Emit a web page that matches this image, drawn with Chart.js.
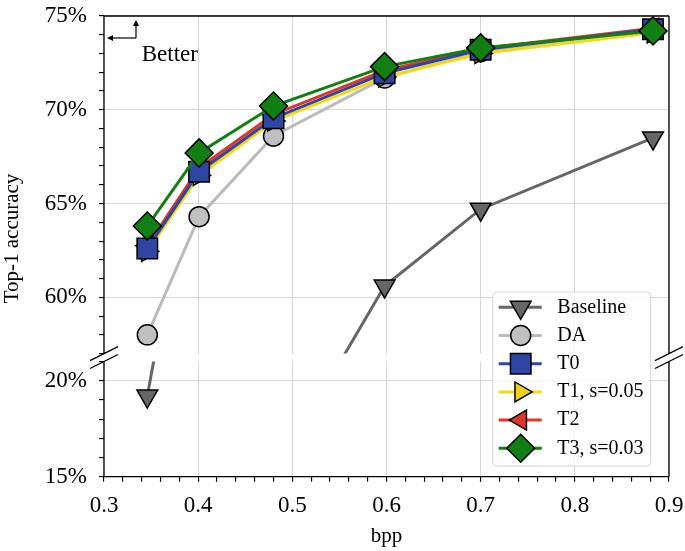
<!DOCTYPE html>
<html>
<head>
<meta charset="utf-8">
<script src="https://cdn.jsdelivr.net/npm/chart.js"></script>
<style>
  html, body { margin: 0; padding: 0; background: #fff; }
  #wrap { position: relative; width: 685px; height: 551px; }
  #wrap canvas { position: absolute; left: 0; top: 0; }
</style>
</head>
<body>
<div id="wrap">
  <canvas id="topChart" width="685" height="551"></canvas>
  <canvas id="bottomChart" width="685" height="551"></canvas>
</div>
<script>
// bits per pixel (x) for every series
const bpp = [0.346, 0.401, 0.480, 0.598, 0.700, 0.883];

// top-1 accuracy in %
const baseline = [19.2, 34.0, 50.5, 60.6, 64.7, 68.5];
const da       = [58.0, 64.3, 68.6, 71.7, 73.1, 74.2];
const t0       = [62.6, 66.7, 69.55, 71.95, 73.2, 74.3];
const t1       = [62.45, 66.5, 69.4, 71.75, 73.0, 74.1];
const t2       = [62.75, 66.9, 69.75, 72.1, 73.25, 74.35];
const t3       = [63.8, 67.7, 70.2, 72.3, 73.3, 74.2];

const seriesLabels = ["Baseline", "DA", "T0", "T1, s=0.05", "T2", "T3, s=0.03"];
const seriesValues = [baseline, da, t0, t1, t2, t3];

// tick labels
const xTickLabels = ["0.3", "0.4", "0.5", "0.6", "0.7", "0.8", "0.9"];
const yTopTicks = [60, 65, 70, 75];
const yBottomTicks = [15, 20];

// broken axis: two y ranges
const topRange = [57, 75];
const bottomRange = [15, 21];

// z: higher = drawn later (on top). T0 sits over T1/T2 like in the paper figure
const styles = [
    { line: "#666666", fill: "#666666", shape: "triangle", rot: 180, r: 12,   z: 1 },
    { line: "#bbbbbb", fill: "#c0c0c0", shape: "circle",   rot: 0,   r: 10,   z: 2 },
    { line: "#2f45a3", fill: "#2f45a3", shape: "rect",     rot: 0,   r: 14.5, z: 5 },
    { line: "#f5d90f", fill: "#f0d317", shape: "triangle", rot: 90,  r: 11.5, z: 3 },
    { line: "#e0352b", fill: "#e0352b", shape: "triangle", rot: 270, r: 11.5, z: 4 },
    { line: "#127f12", fill: "#127f12", shape: "rectRot",  rot: 0,   r: 14,   z: 6 }
];

const FONT = "'Liberation Serif', 'DejaVu Serif', serif";
const GRID = "#d8d8d8";

function makeDatasets() {
    return seriesValues.map((vals, i) => {
        const s = styles[i];
        return {
            label: seriesLabels[i],
            data: bpp.map((x, j) => ({ x: x, y: vals[j] })),
            borderColor: s.line,
            backgroundColor: s.fill,
            borderWidth: 3,
            pointStyle: s.shape,
            pointRotation: s.rot,
            pointRadius: s.r,
            pointHoverRadius: s.r,
            pointBackgroundColor: s.fill,
            pointBorderColor: "#000",
            pointBorderWidth: 1.5,
            tension: 0,
            clip: 0,
            order: 10 - s.z
        };
    });
}

// minor ticks every 0.02 on x, every 1% on y
function xTicks() {
    const out = [];
    for (let k = 0; k <= 30; k++) {
        out.push({ value: +(0.3 + k * 0.02).toFixed(2), major: k % 5 === 0 });
    }
    return out;
}
function yTicks(range, majors) {
    const out = [];
    for (let v = range[0]; v <= range[1]; v++) {
        out.push({ value: v, major: majors.includes(v) });
    }
    return out;
}

const gridColor = (ctx) => (ctx.tick && ctx.tick.major ? GRID : "rgba(0,0,0,0)");

function xScale(showLabels) {
    return {
        type: "linear",
        min: 0.3,
        max: 0.9,
        afterBuildTicks: (scale) => { scale.ticks = xTicks(); },
        afterFit: (scale) => {
            scale.height = showLabels ? 74.3 : 0;
            scale.paddingLeft = 0;
            scale.paddingRight = 0;
        },
        ticks: {
            display: showLabels,
            autoSkip: false,
            maxRotation: 0,
            padding: 10,
            color: "#000",
            font: { family: FONT, size: 23 },
            callback: (v, i, ticks) => (ticks[i].major ? xTickLabels[Math.round((v - 0.3) * 10)] : "")
        },
        grid: {
            color: gridColor,
            lineWidth: 1.1,
            drawTicks: showLabels,
            tickLength: 5,
            tickColor: "#000",
            tickWidth: 1.2
        },
        border: { display: false },
        title: {
            display: showLabels,
            text: "bpp",
            color: "#000",
            font: { family: FONT, size: 21 },
            padding: { top: 0, bottom: 2 }
        }
    };
}

function yScale(range, majors) {
    return {
        type: "linear",
        min: range[0],
        max: range[1],
        afterBuildTicks: (scale) => { scale.ticks = yTicks(range, majors); },
        afterFit: (scale) => {
            scale.width = 104;
            scale.paddingTop = 0;
            scale.paddingBottom = 0;
        },
        ticks: {
            autoSkip: false,
            padding: 12,
            color: "#000",
            font: { family: FONT, size: 23 },
            callback: (v, i, ticks) => (ticks[i].major ? v + "%" : "")
        },
        grid: {
            color: gridColor,
            lineWidth: 1.1,
            tickLength: 5,
            tickColor: "#000",
            tickWidth: 1.2
        },
        border: { display: false }
    };
}

// spines + the // marks of the broken axis
const framePlugin = {
    id: "frame",
    afterDraw(chart, args, opts) {
        const { ctx, chartArea: a } = chart;
        ctx.save();
        ctx.strokeStyle = "#000";
        ctx.lineWidth = 1.3;
        ctx.beginPath();
        ctx.moveTo(a.left, a.top); ctx.lineTo(a.left, a.bottom);
        ctx.moveTo(a.right, a.top); ctx.lineTo(a.right, a.bottom);
        if (opts.edge === "top") {
            ctx.moveTo(a.left, a.top); ctx.lineTo(a.right, a.top);
        } else {
            ctx.moveTo(a.left, a.bottom); ctx.lineTo(a.right, a.bottom);
        }
        const by = opts.edge === "top" ? a.bottom : a.top;
        [a.left, a.right].forEach((bx) => {
            ctx.moveTo(bx - 14, by + 7);
            ctx.lineTo(bx + 14, by - 7);
        });
        ctx.stroke();
        ctx.restore();
    }
};

function arrow(ctx, x1, y1, x2, y2) {
    const ang = Math.atan2(y2 - y1, x2 - x1);
    ctx.beginPath();
    ctx.moveTo(x1, y1);
    ctx.lineTo(x2 - Math.cos(ang) * 4, y2 - Math.sin(ang) * 4);
    ctx.stroke();
    ctx.beginPath();
    ctx.moveTo(x2, y2);
    ctx.lineTo(x2 - Math.cos(ang) * 6 + Math.sin(ang) * 3, y2 - Math.sin(ang) * 6 - Math.cos(ang) * 3);
    ctx.lineTo(x2 - Math.cos(ang) * 6 - Math.sin(ang) * 3, y2 - Math.sin(ang) * 6 + Math.cos(ang) * 3);
    ctx.closePath();
    ctx.fill();
}

const notesPlugin = {
    id: "notes",
    afterDraw(chart) {
        const { ctx, chartArea: a } = chart;
        ctx.save();
        ctx.fillStyle = "#000";
        ctx.strokeStyle = "#000";
        ctx.lineWidth = 1.2;
        const ox = a.left + 32, oy = a.top + 22;
        arrow(ctx, ox, oy, ox, a.top + 4);
        arrow(ctx, ox, oy, a.left + 3, oy);
        ctx.font = "23px " + FONT;
        ctx.textAlign = "left";
        ctx.textBaseline = "alphabetic";
        ctx.fillText("Better", a.left + 37.7, a.top + 44.7);

        ctx.translate(12, 238.5);
        ctx.rotate(-Math.PI / 2);
        ctx.font = "21px " + FONT;
        ctx.textAlign = "center";
        ctx.textBaseline = "middle";
        ctx.fillText("Top-1 accuracy", 0, 0);
        ctx.restore();
    }
};

const legendPlugin = {
    id: "cornerLegend",
    afterDraw(chart) {
        const { ctx, chartArea: a } = chart;
        const w = 158, h = 174;
        const x0 = a.right - 18.3 - w, y0 = a.bottom - 10.7 - h;
        ctx.save();
        ctx.fillStyle = "rgba(255,255,255,0.8)";
        ctx.strokeStyle = "#d4d4d4";
        ctx.lineWidth = 1;
        ctx.beginPath();
        ctx.roundRect(x0, y0, w, h, 4);
        ctx.fill();
        ctx.stroke();
        chart.data.datasets.forEach((ds, i) => {
            const y = y0 + 15.3 + i * 28.2;
            ctx.strokeStyle = ds.borderColor;
            ctx.lineWidth = 3;
            ctx.beginPath();
            ctx.moveTo(x0 + 6, y);
            ctx.lineTo(x0 + 49, y);
            ctx.stroke();
            ctx.fillStyle = ds.pointBackgroundColor;
            ctx.strokeStyle = "#000";
            ctx.lineWidth = 1.5;
            Chart.helpers.drawPoint(ctx, {
                pointStyle: ds.pointStyle,
                rotation: ds.pointRotation,
                radius: ds.pointRadius,
                borderWidth: 1.5
            }, x0 + 28, y);
            ctx.fillStyle = "#000";
            ctx.font = "20px " + FONT;
            ctx.textAlign = "left";
            ctx.textBaseline = "middle";
            ctx.fillText(ds.label, x0 + 64.6, y);
        });
        ctx.restore();
    }
};

const common = {
    responsive: false,
    animation: false,
    events: [],
    plugins: { legend: { display: false }, tooltip: { enabled: false } }
};

const topChart = new Chart(document.getElementById("topChart"), {
    type: "line",
    data: { datasets: makeDatasets() },
    options: {
        ...common,
        layout: { padding: { left: 0, top: 8, right: 16, bottom: 197.4 } },
        plugins: { ...common.plugins, frame: { edge: "top" } },
        scales: {
            x: xScale(false),
            y: yScale(topRange, yTopTicks)
        }
    },
    plugins: [framePlugin, notesPlugin]
});

const bottomChart = new Chart(document.getElementById("bottomChart"), {
    type: "line",
    data: { datasets: makeDatasets() },
    options: {
        ...common,
        layout: { padding: { left: 0, top: 361.5, right: 16, bottom: 0 } },
        plugins: { ...common.plugins, frame: { edge: "bottom" } },
        scales: {
            x: xScale(true),
            y: yScale(bottomRange, yBottomTicks)
        }
    },
    plugins: [framePlugin, legendPlugin]
});
</script>
</body>
</html>
